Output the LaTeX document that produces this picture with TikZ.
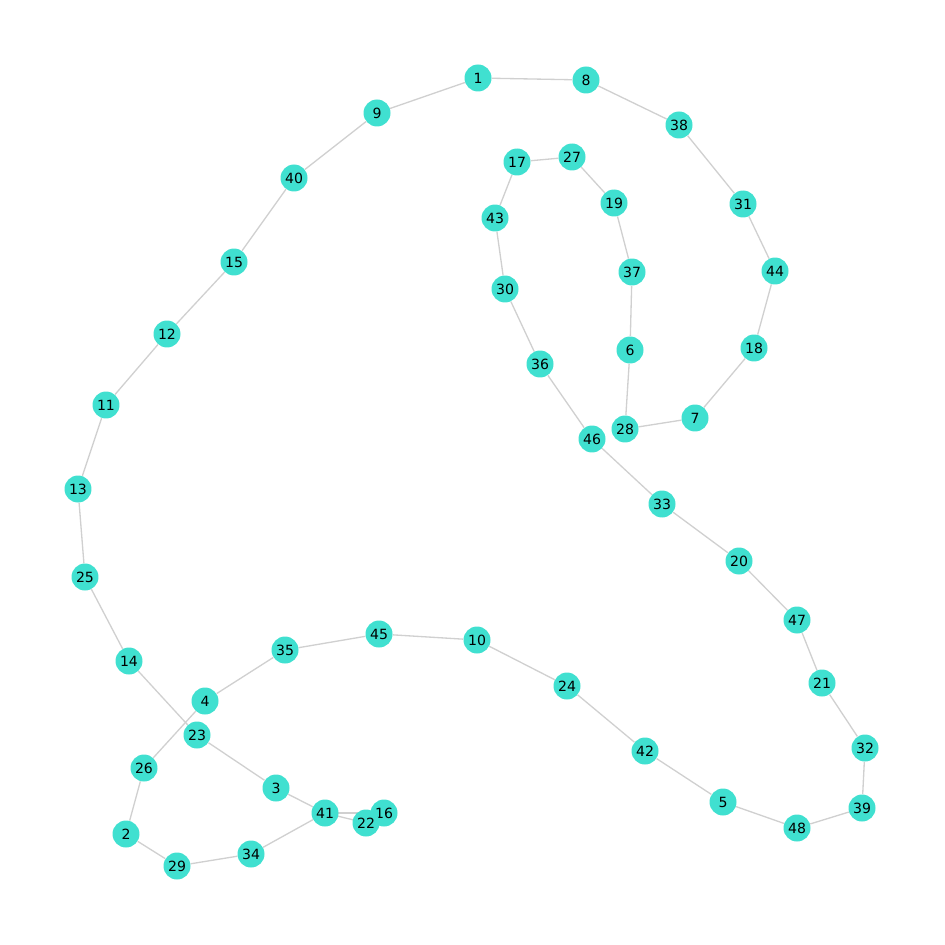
\documentclass[tikz,border=0pt]{standalone}
\usepackage{fontspec}
\setmainfont{DejaVu Sans}
\usepackage{tikz}
\pgfdeclarelayer{background}
\pgfsetlayers{background,main}
\definecolor{turq}{RGB}{64,224,208}
\definecolor{edgegray}{RGB}{208,208,208}
\tikzset {
  % graph vertex
  vertex/.style = {
    circle,
    fill = turq,
    minimum size = 0.54cm,
    inner sep = 0,
    font = \fontsize{8}{9}\selectfont
  },
  % plain edge
  link/.style = {
    draw = edgegray,
    line width = 0.75pt
  }
}

\begin{document}
\begin{tikzpicture}[x=0.02cm, y=-0.02cm]
    \useasboundingbox (0, 0) rectangle (945, 945);
    \node[vertex] at (478, 78) (n1) {1};
    \node[vertex] at (586, 80) (n8) {8};
    \node[vertex] at (679, 125) (n38) {38};
    \node[vertex] at (743, 204) (n31) {31};
    \node[vertex] at (775, 271) (n44) {44};
    \node[vertex] at (754, 348) (n18) {18};
    \node[vertex] at (695, 418) (n7) {7};
    \node[vertex] at (625, 429) (n28) {28};
    \node[vertex] at (630, 350) (n6) {6};
    \node[vertex] at (632, 272) (n37) {37};
    \node[vertex] at (614, 203) (n19) {19};
    \node[vertex] at (572, 157) (n27) {27};
    \node[vertex] at (517, 162) (n17) {17};
    \node[vertex] at (495, 218) (n43) {43};
    \node[vertex] at (505, 289) (n30) {30};
    \node[vertex] at (540, 364) (n36) {36};
    \node[vertex] at (592, 439) (n46) {46};
    \node[vertex] at (662, 504) (n33) {33};
    \node[vertex] at (739, 561) (n20) {20};
    \node[vertex] at (797, 620) (n47) {47};
    \node[vertex] at (822, 683) (n21) {21};
    \node[vertex] at (865, 748) (n32) {32};
    \node[vertex] at (862, 808) (n39) {39};
    \node[vertex] at (797, 828) (n48) {48};
    \node[vertex] at (723, 802) (n5) {5};
    \node[vertex] at (645, 751) (n42) {42};
    \node[vertex] at (567, 686) (n24) {24};
    \node[vertex] at (477, 640) (n10) {10};
    \node[vertex] at (379, 634) (n45) {45};
    \node[vertex] at (285, 650) (n35) {35};
    \node[vertex] at (205, 701) (n4) {4};
    \node[vertex] at (144, 768) (n26) {26};
    \node[vertex] at (126, 834) (n2) {2};
    \node[vertex] at (177, 866) (n29) {29};
    \node[vertex] at (251, 854) (n34) {34};
    \node[vertex] at (325, 813) (n41) {41};
    \node[vertex] at (384, 813) (n16) {16};
    \node[vertex] at (366, 823) (n22) {22};
    \node[vertex] at (276, 788) (n3) {3};
    \node[vertex] at (197, 735) (n23) {23};
    \node[vertex] at (129, 661) (n14) {14};
    \node[vertex] at (85, 577) (n25) {25};
    \node[vertex] at (78, 489) (n13) {13};
    \node[vertex] at (106, 405) (n11) {11};
    \node[vertex] at (167, 334) (n12) {12};
    \node[vertex] at (234, 262) (n15) {15};
    \node[vertex] at (294, 178) (n40) {40};
    \node[vertex] at (377, 113) (n9) {9};

    \begin{pgfonlayer}{background}
    \draw[link] (n1) -- (n8) -- (n38) -- (n31) -- (n44) -- (n18) -- (n7)
    -- (n28) -- (n6) -- (n37) -- (n19) -- (n27) -- (n17) -- (n43)
    -- (n30) -- (n36) -- (n46) -- (n33) -- (n20) -- (n47) -- (n21)
    -- (n32) -- (n39) -- (n48) -- (n5) -- (n42) -- (n24) -- (n10)
    -- (n45) -- (n35) -- (n4) -- (n26) -- (n2) -- (n29) -- (n34)
    -- (n41);
    \draw[link] (n1) -- (n9) -- (n40) -- (n15) -- (n12) -- (n11) -- (n13)
    -- (n25) -- (n14) -- (n23) -- (n3) -- (n41);
    \draw[link] (n41.center) -- (n22.center);
    \draw[link] (n41.center) -- (n16.center);
    \end{pgfonlayer}
  \end{tikzpicture}
\end{document}
